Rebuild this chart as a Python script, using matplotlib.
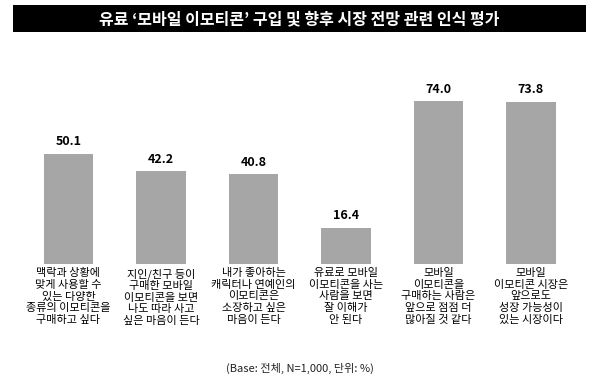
import matplotlib.pyplot as plt
import numpy as np
from matplotlib.patches import Rectangle

plt.rcParams["font.family"] = ["Noto Sans CJK KR", "DejaVu Sans"]

title = "유료 ‘모바일 이모티콘’ 구입 및 향후 시장 전망 관련 인식 평가"
categories = [
    "맥락과 상황에\n맞게 사용할 수\n있는 다양한\n종류의 이모티콘을\n구매하고 싶다",
    "지인/친구 등이\n구매한 모바일\n이모티콘을 보면\n나도 따라 사고\n싶은 마음이 든다",
    "내가 좋아하는\n캐릭터나 연예인의\n이모티콘은\n소장하고 싶은\n마음이 든다",
    "유료로 모바일\n이모티콘을 사는\n사람을 보면\n잘 이해가\n안 된다",
    "모바일\n이모티콘을\n구매하는 사람은\n앞으로 점점 더\n많아질 것 같다",
    "모바일\n이모티콘 시장은\n앞으로도\n성장 가능성이\n있는 시장이다",
]
values = [50.1, 42.2, 40.8, 16.4, 74.0, 73.8]
footnote = "(Base: 전체, N=1,000, 단위: %)"

W, H = 600, 384
fig = plt.figure(figsize=(6, 3.84), dpi=100)
fig.patch.set_facecolor("white")

# black title bar
fig.patches.append(Rectangle((13 / W, 1 - 32 / H), 573 / W, 27 / H,
                             transform=fig.transFigure, facecolor="black",
                             edgecolor="none"))
fig.text(299 / W, 1 - 19 / H, title, color="white", fontsize=11.5,
         fontweight="bold", ha="center", va="center")

ax = fig.add_axes([22.25 / W, 1 - 264 / H, 555 / W, 220 / H])
x = np.arange(len(values))
ax.bar(x, values, width=0.53, color="#a6a6a6")
ax.set_xlim(-0.5, len(values) - 0.5)
ax.set_ylim(0, 100)
ax.axis("off")

for xi, v in zip(x, values):
    ax.annotate(f"{v:.1f}", (xi, v), xytext=(0, 4), textcoords="offset points",
                ha="center", va="bottom", fontsize=9, fontweight="bold")

for xi, lab in zip(x, categories):
    ax.annotate(lab, (xi, 0), xytext=(0, -3), textcoords="offset points",
                ha="center", va="top", fontsize=8, linespacing=1.2)

fig.text(300 / W, 1 - 368 / H, footnote, fontsize=8, ha="center", va="center",
         color="#222222")

fig.savefig("out.png", dpi=100)
